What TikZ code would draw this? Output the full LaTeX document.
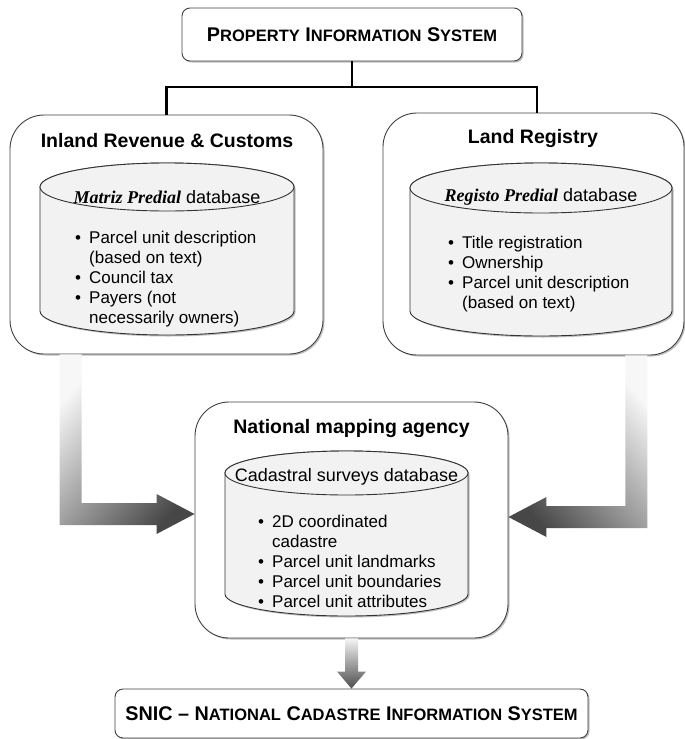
\documentclass[tikz,border=0pt]{standalone}
\usepackage{fontspec}
\setmainfont{Liberation Sans}
\newfontfamily\timesfont{Liberation Serif}
\usetikzlibrary{positioning,shadows,calc}

% fake small capitals: first letter large, rest smaller
\newcommand{\capsc}[2]{#1{\fontsize{16.5}{18}\selectfont #2}}
\newcommand{\bul}{\makebox[14pt][l]{\textbullet}}
\newcommand{\ind}{\hspace*{14pt}}

\tikzset{
  soft shadow/.style={drop shadow={shadow xshift=1.5pt, shadow yshift=-1.5pt, opacity=0.25, fill=black}},
  system box/.style={draw=black!75, fill=white, rounded corners=8pt, line width=0.9pt, inner sep=0pt,
                     soft shadow, font=\bfseries\fontsize{19.8}{23}\selectfont},
  org box/.style={draw=black!75, fill=white, rounded corners=34pt, line width=0.9pt, soft shadow},
  org title/.style={font=\bfseries\fontsize{19.5}{23}\selectfont, inner sep=0pt},
  db/.style={draw=black!80, fill=black!5, line width=0.9pt, soft shadow},
  db rim/.style={draw=black!80, fill=black!5, line width=0.9pt},
  db title/.style={font=\fontsize{18}{21}\selectfont, inner sep=0pt},
  items/.style={font=\fontsize{17}{20}\selectfont, align=left, anchor=north west, inner sep=0pt},
  link/.style={draw=black, line width=2.2pt},
  flow/.style={shade, draw=none}
}

\begin{document}
\begin{tikzpicture}[x=1pt, y=-1pt]
  \useasboundingbox (0,0) rectangle (685,739);

  % top level system
  \node[system box, minimum width=340pt, minimum height=53pt] (pis) at (352,34.5)
    {\capsc{P}{ROPERTY} \capsc{I}{NFORMATION} \capsc{S}{YSTEM}};

  % the two offices that feed it
  \node[org box, minimum width=313pt, minimum height=239pt] (ird) at (166.5,234.5) {};
  \node[org title] (irdtitle) at (167,141) {Inland Revenue \& Customs};
  \path[db] (40,187) -- (40,311) arc[start angle=180, end angle=360, x radius=127pt, y radius=24pt]
    -- (294,187) arc[start angle=0, end angle=180, x radius=127pt, y radius=24pt] -- cycle;
  \draw[db rim] (167,187) ellipse[x radius=127pt, y radius=24pt];
  \node[db title] (irddb) at (167,197) {{\timesfont\bfseries\itshape Matriz Predial} database};
  \node[items] (irditems) at (75,231)
    {\bul Parcel unit description\\\ind (based on text)\\\bul Council tax\\\bul Payers (not\\\ind necessarily owners)};

  \node[org box, minimum width=301pt, minimum height=242pt] (lr) at (533.5,234) {};
  \node[org title] (lrtitle) at (533,138) {Land Registry};
  \path[db] (410,188) -- (410,311) arc[start angle=180, end angle=360, x radius=131pt, y radius=25pt]
    -- (672,188) arc[start angle=0, end angle=180, x radius=131pt, y radius=25pt] -- cycle;
  \draw[db rim] (541,188) ellipse[x radius=131pt, y radius=25pt];
  \node[db title] (lrdb) at (541,197) {{\timesfont\bfseries\itshape Registo Predial} database};
  \node[items] (lritems) at (448,236)
    {\bul Title registration\\\bul Ownership\\\bul Parcel unit description\\\ind (based on text)};

  % mapping agency
  \node[org box, minimum width=313pt, minimum height=236pt] (nma) at (351.5,520) {};
  \node[org title] (nmatitle) at (351.5,428) {National mapping agency};
  \path[db] (225,473) -- (225,594) arc[start angle=180, end angle=360, x radius=121.5pt, y radius=22pt]
    -- (468,473) arc[start angle=0, end angle=180, x radius=121.5pt, y radius=22pt] -- cycle;
  \draw[db rim] (346.5,473) ellipse[x radius=121.5pt, y radius=22pt];
  \node[db title] (nmadb) at (346.5,477) {Cadastral surveys database};
  \node[items] (nmaitems) at (258,515)
    {\bul 2D coordinated\\\ind cadastre\\\bul Parcel unit landmarks\\\bul Parcel unit boundaries\\\bul Parcel unit attributes};

  % final system
  \node[system box, minimum width=473pt, minimum height=49pt] (snic) at (351.5,713.5)
    {SNIC -- \capsc{N}{ATIONAL} \capsc{C}{ADASTRE} \capsc{I}{NFORMATION} \capsc{S}{YSTEM}};

  % tree lines from the top box
  \coordinate (split) at (352,87);
  \draw[link] (pis.south) -- (split);
  \draw[link] (split) -| (ird.north);
  \draw[link] (split) -| ([xshift=3.5pt]lr.north);

  % shaded block arrows
  \coordinate (ltip) at ([yshift=6pt]nma.west);
  \coordinate (rtip) at ([yshift=3pt]nma.east);
  \path[flow, top color=black!3, bottom color=black!72, shading angle=50]
    ([xshift=50pt]ird.south west) -- ([xshift=72pt]ird.south west) |- ([xshift=-38pt,yshift=11pt]ltip)
    -- ([xshift=-38pt,yshift=20pt]ltip) -- (ltip) -- ([xshift=-38pt,yshift=-20pt]ltip)
    -- ([xshift=-38pt,yshift=-11pt]ltip) -| ([xshift=50pt]ird.south west) -- cycle;
  \path[flow, top color=black!3, bottom color=black!72, shading angle=-50]
    ([xshift=-37pt]lr.south east) -- ([xshift=-59pt]lr.south east) |- ([xshift=38pt,yshift=11pt]rtip)
    -- ([xshift=38pt,yshift=20pt]rtip) -- (rtip) -- ([xshift=38pt,yshift=-20pt]rtip)
    -- ([xshift=38pt,yshift=-11pt]rtip) -| ([xshift=-37pt]lr.south east) -- cycle;
  \path[flow, top color=black!4, bottom color=black!70]
    ([xshift=-6.5pt]nma.south) -- ([xshift=6.5pt]nma.south) -- ([xshift=6.5pt,yshift=17pt]snic.north)
    -- ([xshift=14.5pt,yshift=17pt]snic.north) -- (snic.north) -- ([xshift=-14.5pt,yshift=17pt]snic.north)
    -- ([xshift=-6.5pt,yshift=17pt]snic.north) -- cycle;
\end{tikzpicture}
\end{document}
